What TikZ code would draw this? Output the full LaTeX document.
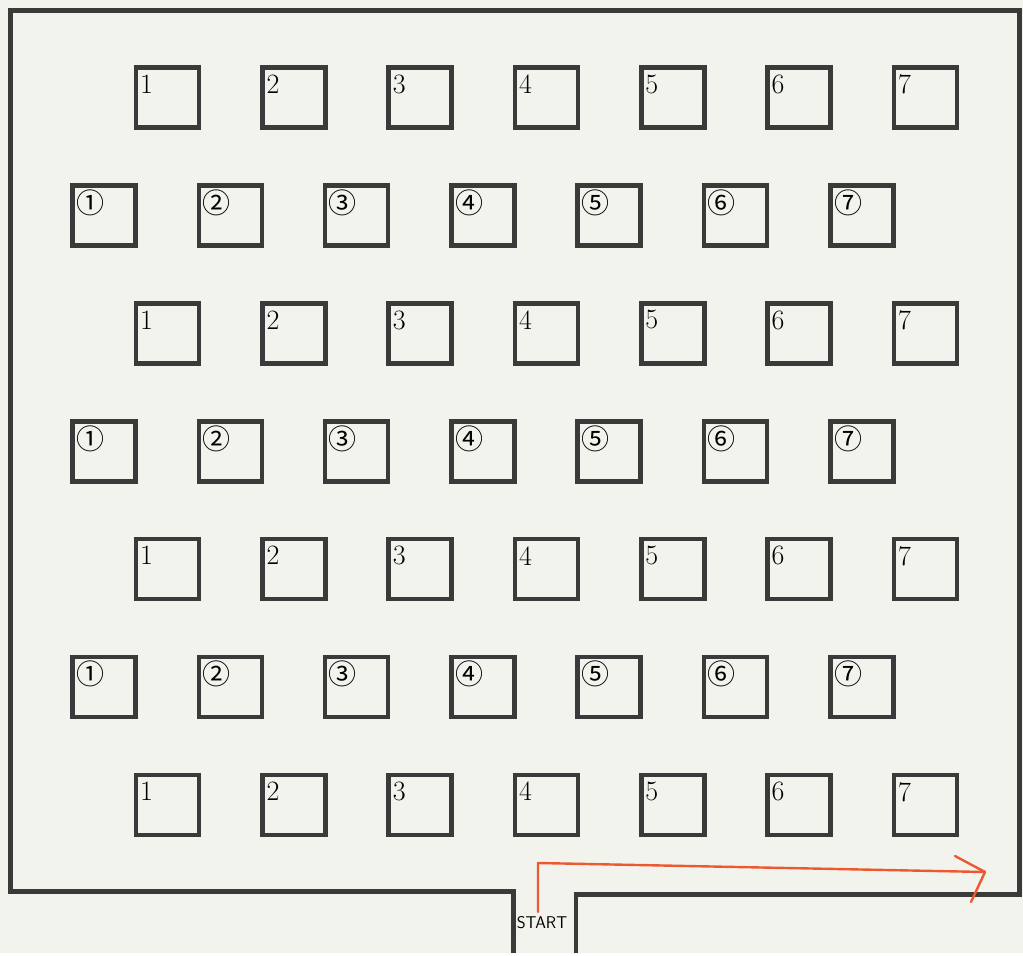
\documentclass[tikz,border=0pt]{standalone}
\usepackage{fontspec}
\newfontfamily\circfont{Noto Sans CJK JP}
\usetikzlibrary{calc}

\definecolor{paper}{RGB}{243,243,238}
\definecolor{wallgray}{RGB}{58,58,58}
\definecolor{pencil}{RGB}{236,88,48}

\begin{document}
\begin{tikzpicture}[x=1pt,y=-1pt,
    wall/.style={draw=wallgray, line width=4.6pt},
    shelf/.style={draw=wallgray, line width=4.6pt, minimum width=63pt,
        minimum height=60pt, inner sep=0pt, outer sep=0pt},
    num/.style={anchor=north west, inner sep=0pt,
        font=\fontsize{28}{30}\selectfont},
    cnum/.style={anchor=north west, inner sep=0pt,
        font=\circfont\fontsize{28}{30}\selectfont},
    route/.style={draw=pencil, line width=2.4pt, line cap=round, line join=round}]

    % paper
    \fill[paper] (0,0) rectangle (1023,953);

    % outer wall with the entrance
    \draw[wall] (513.5,953) |- (10.5,891.5) |- (1019.5,10.5) |- (576,894.5) -- (576,953);

    % rows 1, 3, 5, 7
    \foreach \r in {0,2,4,6}
        \foreach \c in {1,...,7} {
            \node[shelf] (p\r-\c) at ({167.5+126.3*(\c-1)},{97.5+117.9*\r}) {};
            \node[num] (pl\r-\c) at ($(p\r-\c.north west)+(4,7)$) {\c};
        }

    % rows 2, 4, 6
    \foreach \r in {1,3,5}
        \foreach \c/\s in {1/①,2/②,3/③,4/④,5/⑤,6/⑥,7/⑦} {
            \node[shelf] (q\r-\c) at ({104+126.3*(\c-1)},{97.5+117.9*\r}) {};
            \node[cnum] (ql\r-\c) at ($(q\r-\c.north west)+(3.5,4)$) {\s};
        }

    % start
    \node[font=\sffamily\fontsize{17}{19}\selectfont, inner sep=0pt] (start) at (542,923) {START};

    % route
    \coordinate (foot) at (538,912);
    \coordinate (turn) at (538,863);
    \coordinate (tip) at (985,872);
    \draw[route] (foot) -- (turn) -- (tip);
    \draw[route] (955,856) -- (tip) -- (971,902);

\end{tikzpicture}
\end{document}
